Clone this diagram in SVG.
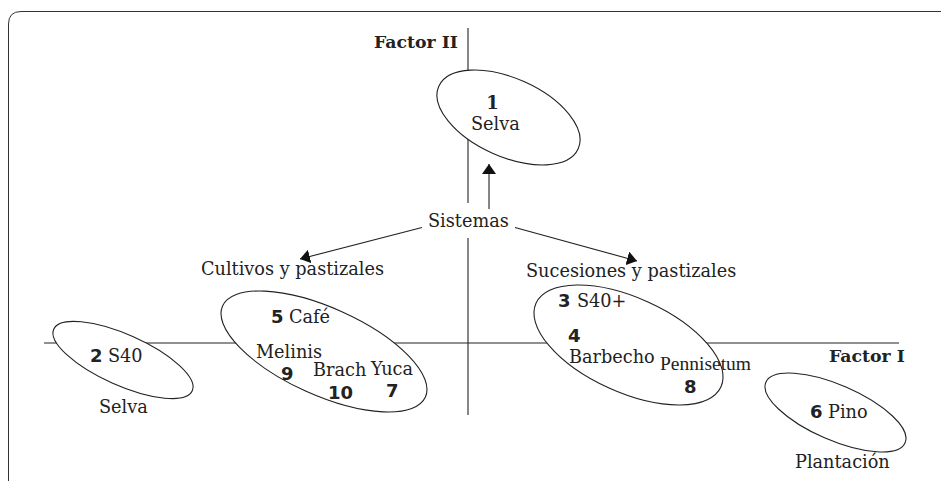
<svg xmlns="http://www.w3.org/2000/svg" width="941" height="481" viewBox="0 0 941 481">
<defs>
<style>
.t{font-family:"DejaVu Serif",serif;font-size:17.7px;fill:#222}
.n{font-family:"DejaVu Sans",sans-serif;font-weight:bold;font-size:18px;fill:#222}
.f{font-family:"DejaVu Serif",serif;font-weight:bold;font-size:17.3px;fill:#222}
.e{fill:#fff;stroke:#222;stroke-width:1.1}
.ax{stroke:#222;stroke-width:1.1;fill:none}
.c{stroke:#222;stroke-width:1.1;fill:none;marker-end:url(#ah)}
</style>
<marker id="ah" viewBox="0 0 10 14" refX="10" refY="7" markerWidth="10" markerHeight="14" markerUnits="userSpaceOnUse" orient="auto">
<path d="M0,0 L10,7 L0,14 z" fill="#111"/>
</marker>
</defs>
<rect width="941" height="481" fill="#fff"/>
<path d="M8.5,481 V24 Q8.5,11.5 21,11.5 H941" fill="none" stroke="#333" stroke-width="1"/>
<g id="axes">
<line class="ax" x1="468" y1="28" x2="468" y2="203"/>
<line class="ax" x1="468" y1="238" x2="468" y2="415"/>
<line class="ax" x1="44" y1="343" x2="899" y2="343"/>
<text class="f" x="374" y="48">Factor II</text>
<text class="f" x="829" y="362">Factor I</text>
</g>
<g id="connectors">
<line class="c" x1="489" y1="209" x2="489" y2="164"/>
<line class="c" x1="422" y1="227.5" x2="300" y2="259"/>
<line class="c" x1="515" y1="227.5" x2="637" y2="261"/>
</g>
<g id="sistemas">
<text class="t" x="428" y="227">Sistemas</text>
</g>
<g id="cultivos">
<text class="t" x="201" y="275">Cultivos y pastizales</text>
</g>
<g id="sucesiones">
<text class="t" x="526" y="277">Sucesiones y pastizales</text>
</g>
<g id="n1">
<ellipse class="e" cx="508.5" cy="117.5" rx="76.4" ry="39.1" transform="rotate(24.2 508.5 117.5)"/>
<text font-family="DejaVu Serif,serif" font-weight="bold" font-size="18" fill="#222" x="492.5" y="109" text-anchor="middle">1</text>
<text class="t" x="471" y="130">Selva</text>
</g>
<g id="n2">
<ellipse class="e" cx="123" cy="360" rx="75.8" ry="25.4" transform="rotate(24 123 360)"/>
<text class="n" x="90" y="362">2</text>
<text class="t" x="108" y="362">S40</text>
<text class="t" x="99" y="413">Selva</text>
</g>
<g id="n5">
<ellipse class="e" cx="324" cy="351.5" rx="111.2" ry="43.6" transform="rotate(24.2 324 351.5)"/>
<text class="n" x="271" y="323">5</text>
<text class="t" x="289" y="323">Café</text>
<text class="t" x="256" y="358">Melinis</text>
<text class="n" x="281" y="380">9</text>
<text class="t" x="313" y="376">Brach</text>
<text class="t" x="371" y="375">Yuca</text>
<text class="n" x="328" y="399">10</text>
<text class="n" x="386" y="397">7</text>
</g>
<g id="n3">
<ellipse class="e" cx="628.5" cy="345" rx="101.5" ry="47.3" transform="rotate(24.3 628.5 345)"/>
<text class="n" x="558" y="307">3</text>
<text class="t" x="577" y="307">S40+</text>
<text class="n" x="568" y="342">4</text>
<text class="t" x="569" y="363">Barbecho</text>
<text font-family="Liberation Serif,serif" font-size="19.5" fill="#222" x="660" y="370">Pennisetum</text>
<text class="n" x="684" y="393">8</text>
</g>
<g id="n6">
<ellipse class="e" cx="835.5" cy="412.5" rx="75.9" ry="27.6" transform="rotate(23.5 835.5 412.5)"/>
<text class="n" x="810" y="418">6</text>
<text class="t" x="828" y="418">Pino</text>
<text class="t" x="795" y="468">Plantación</text>
</g>
</svg>
